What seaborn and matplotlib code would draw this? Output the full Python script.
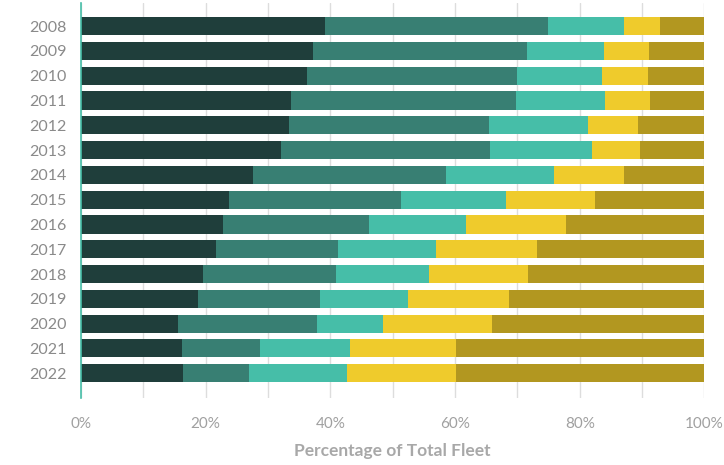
import matplotlib
matplotlib.use("Agg")
import matplotlib.pyplot as plt
import numpy as np
import pandas as pd
import seaborn as sns
from matplotlib.ticker import MultipleLocator, FuncFormatter

# share of total fleet (%) per year, five segments from left to right
years = [str(y) for y in range(2008, 2023)]
seg_1 = [39.2, 37.2, 36.3, 33.7, 33.4, 32.1, 27.6, 23.8, 22.8, 21.7, 19.6, 18.8, 15.6, 16.2, 16.4]
seg_2 = [35.7, 34.3, 33.6, 36.1, 32.0, 33.5, 30.9, 27.5, 23.4, 19.5, 21.3, 19.5, 22.3, 12.5, 10.5]
seg_3 = [12.2, 12.4, 13.7, 14.3, 15.9, 16.3, 17.4, 16.9, 15.6, 15.7, 14.9, 14.2, 10.5, 14.5, 15.8]
seg_4 = [5.8, 7.2, 7.3, 7.2, 8.0, 7.8, 11.2, 14.2, 16.0, 16.2, 15.9, 16.2, 17.5, 17.0, 17.5]
seg_5 = [7.1, 8.9, 9.1, 8.7, 10.7, 10.3, 12.9, 17.6, 22.2, 26.9, 28.3, 31.3, 34.1, 39.8, 39.8]

segments = [seg_1, seg_2, seg_3, seg_4, seg_5]
colors = ["#1f3e3b", "#387f73", "#46bea8", "#efcb2c", "#b29720"]

df = pd.DataFrame({"year": years})
cum = np.cumsum(np.array(segments), axis=0)

sns.set_theme(style="white")
plt.rcParams['font.family'] = ['Lato', 'DejaVu Sans']

fig = plt.figure(figsize=(7.24, 4.65), dpi=100)
ax = fig.add_axes([0.1116, 0.144, 0.8614, 0.8495])

# draw cumulative bars from the right end backwards so each segment shows
for i in range(len(segments) - 1, -1, -1):
    df["val"] = cum[i]
    sns.barplot(data=df, x="val", y="year", orient="h", color=colors[i],
                width=0.73, saturation=1, linewidth=0, ax=ax, zorder=3)

ax.set_xlim(0, 100)
ax.set_ylim(15.0, -0.93)

ax.xaxis.set_major_locator(MultipleLocator(20))
ax.xaxis.set_minor_locator(MultipleLocator(10))
ax.xaxis.set_major_formatter(FuncFormatter(lambda v, p: f"{int(v)}%"))
ax.grid(axis="x", which="both", color="#dddddd", linewidth=1, zorder=0)
ax.grid(axis="y", visible=False)
ax.set_axisbelow(True)

for s in ["top", "right", "bottom"]:
    ax.spines[s].set_visible(False)
ax.spines["left"].set_color("#46bea8")
ax.spines["left"].set_linewidth(1.2)
ax.spines["left"].set_zorder(5)

ax.tick_params(axis="x", which="both", length=0, pad=14, labelsize=11, labelcolor="#a0a0a0")
ax.tick_params(axis="y", length=0, pad=10, labelsize=11.5, labelcolor="#8a8a8a")

ax.set_ylabel("")
ax.set_xlabel("Percentage of Total Fleet", fontsize=12.5, fontweight="bold",
              color="#a8a8a8", labelpad=8)

fig.savefig("out.png", dpi=100)
